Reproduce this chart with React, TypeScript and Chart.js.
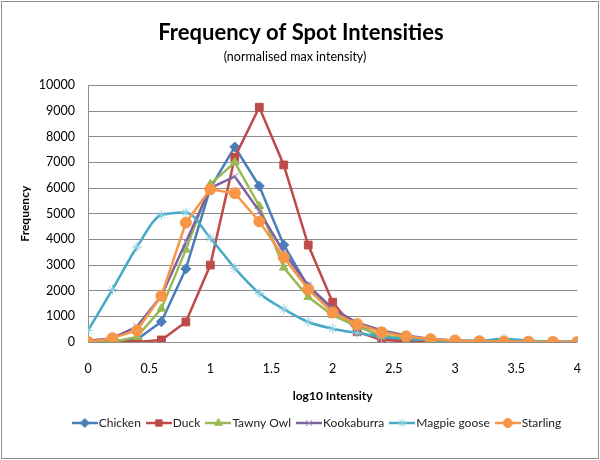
import React, { useEffect, useRef } from "react";
import { Chart, registerables } from "chart.js";
import { drawPoint } from "chart.js/helpers";

Chart.register(...registerables);

const FONT = "Lato, 'Open Sans', sans-serif";

const xValues = [0, 0.2, 0.4, 0.6, 0.8, 1.0, 1.2, 1.4, 1.6, 1.8, 2.0, 2.2, 2.4, 2.6, 2.8, 3.0, 3.2, 3.4, 3.6, 3.8, 4.0];

const chicken = [0, 50, 100, 790, 2850, 6000, 7600, 6080, 3780, 2150, 1300, 700, 150, 100, 50, 30, 10, 10, 0, 0, 0];
const duck = [0, 50, 0, 80, 780, 3000, 7200, 9150, 6900, 3780, 1550, 400, 80, 30, 20, 10, 0, 0, 0, 0, 0];
const tawnyOwl = [0, 0, 200, 1300, 3600, 6150, 7000, 5300, 2900, 1750, 1050, 600, 250, 150, 80, 40, 20, 10, 0, 0, 0];
const kookaburra = [50, 150, 600, 1800, 3900, 6000, 6450, 5100, 3500, 2200, 1300, 750, 450, 250, 120, 60, 30, 20, 10, 0, 0];
const magpieGoose = [450, 2050, 3700, 4950, 5050, 4050, 2880, 1900, 1280, 780, 520, 350, 200, 120, 80, 60, 50, 130, 50, 10, 0];
const starling = [0, 150, 450, 1800, 4650, 5950, 5800, 4700, 3300, 2050, 1150, 700, 380, 220, 110, 60, 30, 20, 10, 0, 0];

const seriesNames = ["Chicken", "Duck", "Tawny Owl", "Kookaburra", "Magpie goose", "Starling"];
const seriesValues = [chicken, duck, tawnyOwl, kookaburra, magpieGoose, starling];
const seriesColors = ["#4A7EBB", "#BE4B48", "#98B954", "#7D60A0", "#46AAC5", "#F79646"];
const markerColors = ["#4A7EBB", "#BE4B48", "#98B954", "#9B86C0", "#8FD0E4", "#F79646"];
const markerStyles = ["rectRot", "rect", "triangle", "crossRot", "star", "circle"];
const markerRadius = [5, 5.5, 5, 5, 5, 5.5];
const smoothed = [false, false, false, false, true, false];

function legendIcon(i: number): HTMLCanvasElement {
  const c = document.createElement("canvas");
  c.width = 26;
  c.height = 12;
  const ctx = c.getContext("2d")!;
  ctx.strokeStyle = seriesColors[i];
  ctx.lineWidth = 2.5;
  ctx.beginPath();
  ctx.moveTo(0, 6);
  ctx.lineTo(26, 6);
  ctx.stroke();
  ctx.fillStyle = markerColors[i];
  ctx.strokeStyle = markerColors[i];
  ctx.lineWidth = 1;
  drawPoint(ctx, { pointStyle: markerStyles[i] as any, radius: 4.5, rotation: 0, borderWidth: 1 } as any, 13, 6);
  return c;
}

const shiftBoxes = {
  id: "shiftBoxes",
  afterLayout(chart: any) {
    const lg = chart.legend;
    if (lg) {
      lg.left += 24;
      lg.right += 24;
    }
    const tt = chart.titleBlock;
    if (tt) {
      tt.left += 6;
      tt.right += 6;
    }
  },
};

export default function App() {
  const ref = useRef<HTMLCanvasElement>(null);
  useEffect(() => {
    const icons = seriesNames.map((_, i) => legendIcon(i));
    const datasets = seriesNames.map((name, i) => ({
      label: name,
      data: xValues.map((x, j) => ({ x, y: seriesValues[i][j] })),
      borderColor: seriesColors[i],
      backgroundColor: markerColors[i],
      pointBackgroundColor: markerColors[i],
      pointBorderColor: markerColors[i],
      pointStyle: markerStyles[i],
      pointRadius: markerRadius[i],
      pointBorderWidth: 1,
      borderWidth: 2.5,
      cubicInterpolationMode: smoothed[i] ? "monotone" : "default",
      tension: smoothed[i] ? 0.4 : 0,
      order: seriesNames.length - i,
    }));
    const chart = new Chart(ref.current!, {
      type: "line",
      data: { datasets },
      plugins: [shiftBoxes],
      options: {
        animation: false,
        responsive: false,
        layout: { padding: { left: 8, right: 18, top: 8, bottom: 21 } },
        plugins: {
          title: {
            display: true,
            text: "Frequency of Spot Intensities",
            color: "#000",
            font: { family: FONT, size: 22, weight: "bold" },
            padding: { top: 12, bottom: 3 },
          },
          subtitle: {
            display: true,
            text: "(normalised max intensity)",
            color: "#000",
            font: { family: FONT, size: 12.5 },
            padding: { top: 0, bottom: 21 },
          },
          legend: {
            position: "bottom",
            labels: {
              usePointStyle: true,
              pointStyleWidth: 16,
              boxHeight: 12,
              padding: 10,
              color: "#222",
              font: { family: FONT, size: 12 },
              generateLabels: (ch: any) =>
                ch.data.datasets.map((d: any, i: number) => ({
                  text: d.label,
                  pointStyle: icons[i],
                  datasetIndex: i,
                  fillStyle: "transparent",
                  strokeStyle: "transparent",
                  lineWidth: 0,
                  fontColor: "#222",
                  hidden: false,
                })),
            },
          },
          tooltip: { enabled: false },
        },
        scales: {
          x: {
            type: "linear",
            min: 0,
            max: 4,
            ticks: {
              stepSize: 0.5,
              padding: 19,
              color: "#000",
              font: { family: FONT, size: 12.5 },
              callback: (v: any) => String(v),
            },
            grid: { display: false, drawTicks: false },
            border: { display: false },
            title: {
              display: true,
              text: "log10 Intensity",
              color: "#000",
              font: { family: FONT, size: 12, weight: "bold" },
              padding: { top: 12, bottom: 4 },
            },
            afterFit: (s: any) => {
              s.height = 65;
            },
          },
          y: {
            min: 0,
            max: 10000,
            ticks: {
              stepSize: 1000,
              padding: 13,
              color: "#000",
              font: { family: FONT, size: 12.5 },
              callback: (v: any) => String(v),
            },
            grid: { color: "#8c8c8c", drawTicks: false },
            border: { display: true, color: "#8c8c8c" },
            title: {
              display: true,
              text: "Frequency",
              color: "#000",
              font: { family: FONT, size: 12, weight: "bold" },
              padding: { top: 10, bottom: 0 },
            },
            afterFit: (s: any) => {
              s.width = 80;
            },
          },
        },
      } as any,
    });
    return () => chart.destroy();
  }, []);
  return (
    <div style={{ position: "fixed", left: 0, top: 0, width: 600, height: 460, background: "#fff" }}>
      <canvas ref={ref} width={600} height={460} style={{ display: "block" }} />
      <div
        style={{
          position: "absolute",
          left: 1,
          top: 1,
          width: 596,
          height: 456,
          border: "1px solid #8c8c8c",
          pointerEvents: "none",
        }}
      />
    </div>
  );
}
